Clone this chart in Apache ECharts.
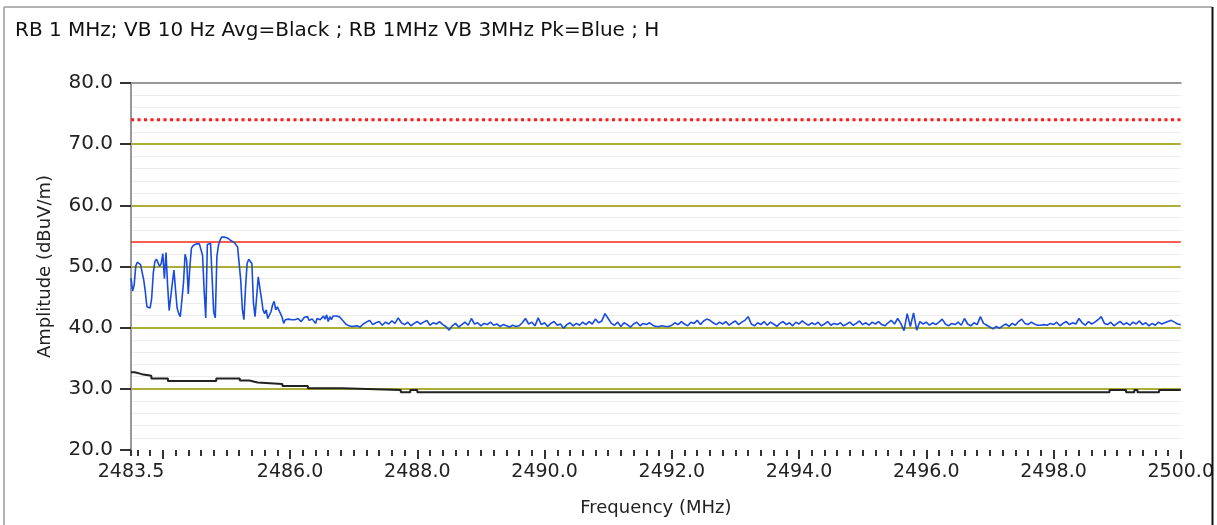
<!DOCTYPE html>
<html><head><meta charset="utf-8">
<script src="https://cdn.jsdelivr.net/npm/echarts@6/dist/echarts.min.js"></script>
<style>html,body{margin:0;padding:0;background:#fff;overflow:hidden}#c{width:1217px;height:525px}</style>
</head><body><div id="c"></div>
<script>
// ---- data ----
const titleText = 'RB 1 MHz; VB 10 Hz Avg=Black ; RB 1MHz VB 3MHz Pk=Blue ; H';
const xMin = 2483.5, xMax = 2500.0;
const yMin = 20, yMax = 80, yStep = 10;
const xLabelValues = [2483.5, 2486, 2488, 2490, 2492, 2494, 2496, 2498, 2500];
const peakLimit = 74;   // red dotted
const avgLimit = 54;    // red solid

// Peak trace (blue), segment A: 2483.5 .. 2487.0 step 0.025 MHz
const peakA_start = 2483.5, peakA_step = 0.025;
const peakA = [
48.1,46.0,47.0,50.1,50.7,50.5,50.3,50.0,47.8,45.9,
43.4,43.2,43.2,44.8,48.9,50.8,51.2,51.3,50.0,50.5,
52.1,48.0,52.3,47.0,42.8,42.6,47.3,49.4,46.2,43.2,
42.3,41.8,41.5,47.3,52.0,51.0,45.5,50.0,53.0,53.4,
53.6,53.7,53.8,53.7,53.4,51.8,46.0,41.6,53.6,53.8,
53.8,53.7,42.5,41.6,51.6,53.5,54.3,54.8,54.8,54.8,
54.7,54.6,54.3,54.2,54.1,53.9,53.8,53.2,50.5,47.7,
43.0,41.3,46.5,50.5,51.2,51.2,50.5,44.0,41.8,41.8,
48.3,48.6,44.8,42.9,42.3,42.9,41.5,41.3,42.6,43.7,
44.3,42.9,43.4,43.2,42.3,41.7,40.7,41.3,41.2,41.4,
41.2,41.3,41.5,41.3,41.2,41.5,41.7,41.0,41.3,41.7,
41.4,41.8,41.2,41.3,41.4,41.2,40.7,41.5,41.7,41.3,
41.0,41.9,41.4,42.1,41.0,41.8,41.3,41.9,41.7,41.9,
41.9,41.8,41.5,41.2,40.9,40.6,40.4,40.3,40.4,40.2,
40.4
];
// Peak trace (blue), segment B: 2487.05 .. 2500.0 step 0.05 MHz
const peakB_start = 2487.05, peakB_step = 0.05;
const peakB = [
40.3,40.1,40.6,40.9,41.2,40.5,40.8,41.0,40.4,40.9,40.6,41.1,40.7,41.6,40.8,40.5,40.9,40.3,40.7,41.0,
40.6,40.9,41.2,40.4,40.8,40.6,41.0,40.5,40.2,39.6,40.3,40.7,40.1,40.5,40.9,40.4,41.5,40.6,40.8,40.3,
40.7,40.5,40.9,40.4,40.6,40.2,40.5,40.3,40.1,40.4,40.2,40.3,40.8,41.5,40.6,40.9,40.3,41.6,40.5,40.8,
40.2,40.7,41.0,40.4,40.6,39.9,40.5,40.8,40.3,40.7,40.4,40.9,40.5,41.0,40.6,41.4,40.8,41.1,42.3,41.5,
40.7,40.4,40.9,40.2,40.8,40.5,40.1,40.6,40.9,40.3,40.7,40.5,40.8,40.4,40.2,40.2,40.3,40.2,40.2,40.4,
40.8,40.5,41.0,40.6,40.3,40.9,40.7,41.2,40.5,41.1,41.4,41.2,40.8,40.5,40.9,40.6,41.0,40.4,40.8,41.1,
40.5,40.9,41.2,41.8,40.6,40.3,40.8,40.5,41.0,40.4,40.9,40.6,40.2,40.7,41.0,40.5,40.8,40.3,40.9,40.6,
41.1,40.7,40.4,40.8,40.5,40.9,40.3,40.6,41.0,40.4,40.7,40.5,40.8,40.3,40.6,40.9,40.4,40.7,41.1,40.5,
40.8,40.4,40.9,40.6,41.0,40.5,40.3,40.8,41.2,40.6,41.5,40.7,39.5,42.3,40.2,42.4,39.6,41.0,40.6,40.9,
40.4,40.8,40.5,40.9,41.4,40.6,40.3,40.7,40.5,40.9,40.4,41.5,40.6,40.3,40.8,40.5,41.8,40.7,40.4,40.1,
39.8,40.2,39.9,40.3,40.6,40.2,40.7,40.4,41.0,41.4,40.7,40.5,40.9,40.6,40.4,40.4,40.5,40.4,40.7,40.5,
40.9,40.3,40.7,41.0,40.5,40.8,40.6,41.5,40.8,40.4,41.0,40.6,40.9,41.3,41.8,40.7,40.5,40.9,40.3,40.7,
41.0,40.5,40.8,40.4,40.9,40.6,41.1,40.5,40.8,40.3,40.7,40.4,40.9,40.6,40.8,41.0,41.2,40.9,40.6,40.5
];
// Average trace (black): level changes
const avgFreq  = [2483.5,2483.56,2483.67,2483.82,2484.08,2484.84,2485.21,2485.36,2485.49,2485.88,2486.28,2486.82,2487.74,2487.89,2488.0,2498.88,2499.14,2499.27,2499.32,2499.66,2500.0];
const avgLevel = [32.7,32.4,32.15,31.7,31.3,31.7,31.35,31.05,30.8,30.45,30.1,29.8,29.45,29.8,29.45,29.8,29.45,29.8,29.45,29.8,29.8];

// ---- build ----
const peakData = [];
peakA.forEach((v,i)=>peakData.push([+(peakA_start+i*peakA_step).toFixed(4), v]));
peakB.forEach((v,i)=>peakData.push([+(peakB_start+i*peakB_step).toFixed(4), v]));
const avgData = avgFreq.map((f,i)=>[f, avgLevel[i]]);

const majorTicks = [];
for (let k = 24840; k <= 25000; k += 20) majorTicks.push(k/10);
const minor02 = [xMin];
for (let k = 12418; k <= 12500; k++) { const v = +(k/5).toFixed(1); if (v > xMin && Math.abs(v/2 - Math.round(v/2)) > 1e-6) minor02.push(v); }

const FONT = 'DejaVu Sans';
const chart = echarts.init(document.getElementById('c'), null, {renderer:'canvas', width:1217, height:525});
chart.setOption({
  animation: false,
  backgroundColor: '#fff',
  title: { text: titleText, left: 10, top: 16,
    textStyle: { fontFamily: FONT, fontSize: 20, fontWeight: 'normal', color: '#111' } },
  grid: { left: 131, right: 28, top: 83, bottom: 75, containLabel: false },
  xAxis: [
    { type: 'value', min: xMin, max: xMax, position: 'bottom',
      name: 'Frequency (MHz)', nameLocation: 'middle', nameGap: 49,
      nameTextStyle: { fontFamily: FONT, fontSize: 18, color: '#222' },
      axisLine: { show: false },
      axisTick: { show: true, customValues: minor02, length: 6, lineStyle: { color: '#333', width: 2 } },
      axisLabel: { customValues: xLabelValues, formatter: v => v.toFixed(1), margin: 13,
        fontFamily: FONT, fontSize: 19, color: '#222' },
      splitLine: { show: false } },
    { type: 'value', min: xMin, max: xMax, position: 'bottom', offset: 0,
      axisLine: { show: false },
      axisTick: { show: true, customValues: majorTicks, length: 9, lineStyle: { color: '#333', width: 2 } },
      axisLabel: { show: false }, splitLine: { show: false } },
    { type: 'value', min: xMin, max: xMax, position: 'top',
      axisLine: { show: true, lineStyle: { color: '#999', width: 2 } },
      axisTick: { show: false }, axisLabel: { show: false }, splitLine: { show: false } }
  ],
  yAxis: {
    type: 'value', min: yMin, max: yMax, interval: yStep,
    name: 'Amplitude (dBuV/m)', nameLocation: 'middle', nameGap: 77,
    nameTextStyle: { fontFamily: FONT, fontSize: 18, color: '#222' },
    axisLine: { show: true, lineStyle: { color: '#999', width: 2 } },
    axisTick: { show: true, length: 11, lineStyle: { color: '#333', width: 2 } },
    axisLabel: { formatter: v => v.toFixed(1), margin: 18, fontFamily: FONT, fontSize: 20, color: '#222' },
    splitLine: { show: true, showMinLine: false, showMaxLine: false, lineStyle: { color: '#adad38', width: 2 } },
    minorTick: { show: false, splitNumber: 5 },
    minorSplitLine: { show: true, lineStyle: { color: '#ececec', width: 1 } }
  },
  series: [
    { type: 'line', name: 'limitPk', data: [[xMin, peakLimit],[xMax, peakLimit]], showSymbol: false,
      lineStyle: { color: '#ff1a1a', width: 3, type: [3, 3.5] }, z: 2, silent: true },
    { type: 'line', name: 'limitAvg', data: [[xMin, avgLimit],[xMax, avgLimit]], showSymbol: false,
      lineStyle: { color: '#ff2a1a', width: 1.5 }, z: 2, silent: true },
    { type: 'line', name: 'Avg', data: avgData, step: 'end', showSymbol: false,
      lineStyle: { color: '#222', width: 2 }, z: 3 },
    { type: 'line', name: 'Pk', data: peakData, showSymbol: false,
      lineStyle: { color: '#1a4be0', width: 1.6 }, z: 4 }
  ],
  graphic: [
    { type: 'rect', shape: { x: 1213, y: 0, width: 10, height: 525 }, style: { fill: '#fff' }, z: 100 },
    { type: 'line', shape: { x1: 4, y1: 7, x2: 1212, y2: 7 }, style: { stroke: '#999', lineWidth: 1.5 }, z: 101 },
    { type: 'line', shape: { x1: 4, y1: 7, x2: 4, y2: 525 }, style: { stroke: '#999', lineWidth: 1.5 }, z: 101 },
    { type: 'line', shape: { x1: 1212.5, y1: 7, x2: 1212.5, y2: 525 }, style: { stroke: '#111', lineWidth: 2 }, z: 101 }
  ]
});
</script></body></html>
